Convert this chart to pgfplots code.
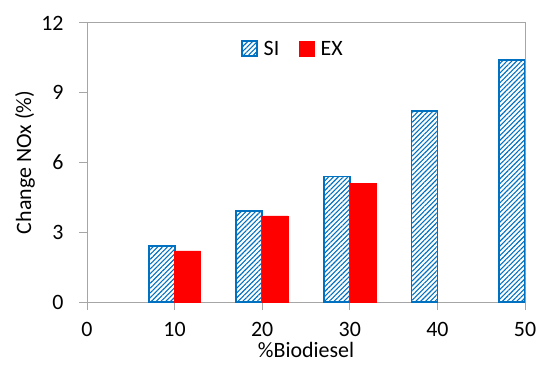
\documentclass[border=0pt]{standalone}
\usepackage{pgfplots}
\pgfplotsset{compat=1.18}
\usepackage{fontspec}
\setmainfont{Carlito}
\usetikzlibrary{patterns.meta}
\definecolor{siblue}{RGB}{0,112,192}
\definecolor{exred}{RGB}{255,0,0}
\definecolor{axgray}{RGB}{166,166,166}
\begin{document}
\begin{tikzpicture}
\begin{axis}[
  scale only axis,
  width=438bp, height=279bp,
  xmin=0, xmax=50, ymin=0, ymax=12,
  xtick={0,10,20,30,40,50},
  ytick={0,3,6,9,12},
  axis line style={axgray, line width=1bp},
  tick style={axgray, line width=1bp},
  tick align=outside,
  major tick length=8bp,
  xtick pos=bottom, ytick pos=left,
  font=\fontsize{22}{26}\selectfont,
  /pgf/number format/assume math mode=true,
  ticklabel style={font=\fontsize{22}{26}\selectfont, text=black},
  xticklabel style={yshift=-9bp},
  yticklabel style={xshift=-12bp},
  ybar=0pt, bar width=26bp,
  xlabel={\%Biodiesel},
  ylabel={Change NOx (\%)},
  xlabel style={at={(axis description cs:0.5,0)}, anchor=center, yshift=-48bp},
  ylabel style={at={(axis description cs:0,0.5)}, anchor=center, yshift=62bp},
  legend style={draw=none, fill=none, at={(axis description cs:0.47,0.907)}, anchor=center,
    legend columns=2, font=\fontsize{22}{26}\selectfont,
    /tikz/every odd column/.append style={column sep=4bp},
    /tikz/every even column/.append style={column sep=18bp}},
  legend image code/.code={\draw[#1] (0bp,-7bp) rectangle (15bp,8bp);},
]
\addplot[draw=siblue, line width=1.8bp, pattern={Lines[angle=45,distance=3.4bp,line width=1.1bp]}, pattern color=siblue]
  coordinates {(10,2.4) (20,3.9) (30,5.4) (40,8.2) (50,10.4)};
\addplot[draw=exred, fill=exred]
  coordinates {(10,2.2) (20,3.7) (30,5.1)};
\legend{SI,EX}
\end{axis}
\path ([shift={(-87bp,-69bp)}]current axis.south west) rectangle ([shift={(25bp,23bp)}]current axis.north east);
\end{tikzpicture}
\end{document}
